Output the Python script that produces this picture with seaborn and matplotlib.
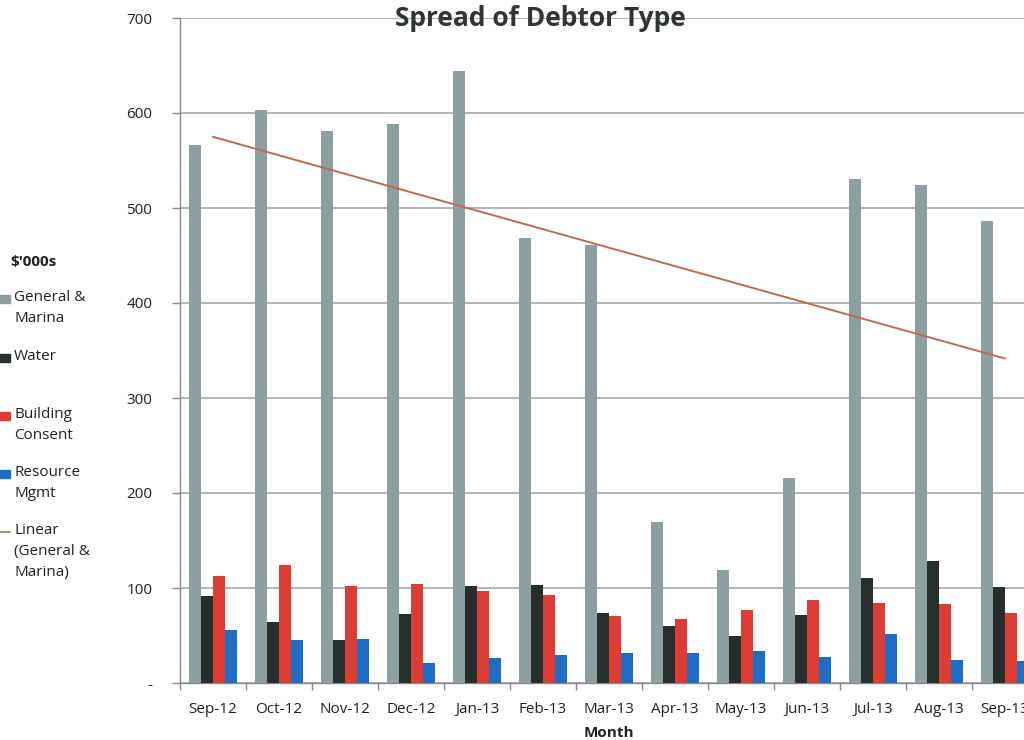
import numpy as np
import pandas as pd
import matplotlib
matplotlib.use("Agg")
import matplotlib.pyplot as plt
from matplotlib.patches import Rectangle
from matplotlib.lines import Line2D
import seaborn as sns

# Monthly debtor balances ($'000s)
months = ["Sep-12", "Oct-12", "Nov-12", "Dec-12", "Jan-13", "Feb-13", "Mar-13",
          "Apr-13", "May-13", "Jun-13", "Jul-13", "Aug-13", "Sep-13"]
general_marina = [566, 603, 581, 588, 644, 468, 461, 170, 119, 216, 531, 524, 486]
water = [92, 64, 45, 73, 102, 103, 74, 60, 50, 72, 111, 128, 101]
building_consent = [113, 124, 102, 104, 97, 93, 71, 67, 77, 87, 84, 83, 74]
resource_mgmt = [56, 45, 46, 21, 26, 30, 32, 32, 34, 27, 52, 24, 23]

series_names = ["General &\nMarina", "Water", "Building\nConsent", "Resource\nMgmt"]
series_colors = ["#8d9fa1", "#262f2b", "#dc3c34", "#1e6cc3"]
trend_color = "#c4694f"
y_ticks = [0, 100, 200, 300, 400, 500, 600, 700]
y_tick_labels = ["-", "100", "200", "300", "400", "500", "600", "700"]

df = pd.DataFrame({
    "Month": months * 4,
    "Series": np.repeat(series_names, len(months)),
    "Value": general_marina + water + building_consent + resource_mgmt,
})

sns.set_theme(style="white")
plt.rcParams["font.family"] = ["Open Sans", "DejaVu Sans"]
text_color = "#222222"

fig = plt.figure(figsize=(10.24, 7.40), dpi=100)
ax = fig.add_axes([180 / 1024, 57 / 740, 858 / 1024, 665 / 740])

sns.barplot(data=df, x="Month", y="Value", hue="Series", order=months,
            hue_order=series_names, palette=series_colors, width=0.73,
            saturation=1, errorbar=None, legend=False, ax=ax, zorder=3,
            linewidth=0, edgecolor="none")

# Linear trend of General & Marina
xs = np.arange(len(months))
slope, intercept = np.polyfit(xs, general_marina, 1)
ax.plot(xs, slope * xs + intercept, color=trend_color, lw=1.4, zorder=4)

ax.set_xlim(-0.5, len(months) - 0.5)
ax.set_ylim(0, 700)
ax.set_yticks(y_ticks)
ax.set_yticklabels(y_tick_labels)
ax.yaxis.grid(True, color="#9aa1a7", lw=1.1, zorder=0)
ax.xaxis.grid(False)

for side in ["top", "right"]:
    ax.spines[side].set_visible(False)
for side in ["left", "bottom"]:
    ax.spines[side].set_visible(True)
    ax.spines[side].set_color("#8a8a8a")
    ax.spines[side].set_linewidth(1.0)

ax.tick_params(axis="y", which="major", length=6, width=1, color="#8a8a8a",
               pad=14, labelsize=11, labelcolor=text_color, left=True)
ax.tick_params(axis="x", which="major", length=0, pad=14, labelsize=11,
               labelcolor=text_color)
ax.set_xticks(np.arange(-0.5, len(months), 1.0), minor=True)
ax.tick_params(axis="x", which="minor", length=5, width=1, color="#8a8a8a",
               bottom=True)

ax.set_xlabel("Month", fontsize=11, fontweight="bold", color=text_color, labelpad=6)
ax.set_ylabel("")

fig.text(540 / 1024, 1 - 19 / 740, "Spread of Debtor Type", ha="center",
         va="center", fontsize=19, fontweight="bold", color="#2f3436")

# Legend on the left
fig.text(10 / 1024, 1 - 262 / 740, "$'000s", ha="left", va="center",
         fontsize=11, fontweight="bold", color=text_color)
legend_rows = [299, 358, 416, 474]
for name, color, row in zip(series_names, series_colors, legend_rows):
    fig.patches.append(Rectangle((0, 1 - (row + 4) / 740), 10 / 1024, 8 / 740,
                                 transform=fig.transFigure, color=color))
    fig.text(14 / 1024, 1 - (row - 9) / 740, name, ha="left", va="top",
             fontsize=11, color=text_color, linespacing=1.55)
fig.lines.append(Line2D([0, 10 / 1024], [1 - 532 / 740] * 2,
                        transform=fig.transFigure, color=trend_color, lw=1.2))
fig.text(14 / 1024, 1 - 523 / 740, "Linear\n(General &\nMarina)", ha="left",
         va="top", fontsize=11, color=text_color, linespacing=1.55)

fig.savefig("out.png", dpi=100)
